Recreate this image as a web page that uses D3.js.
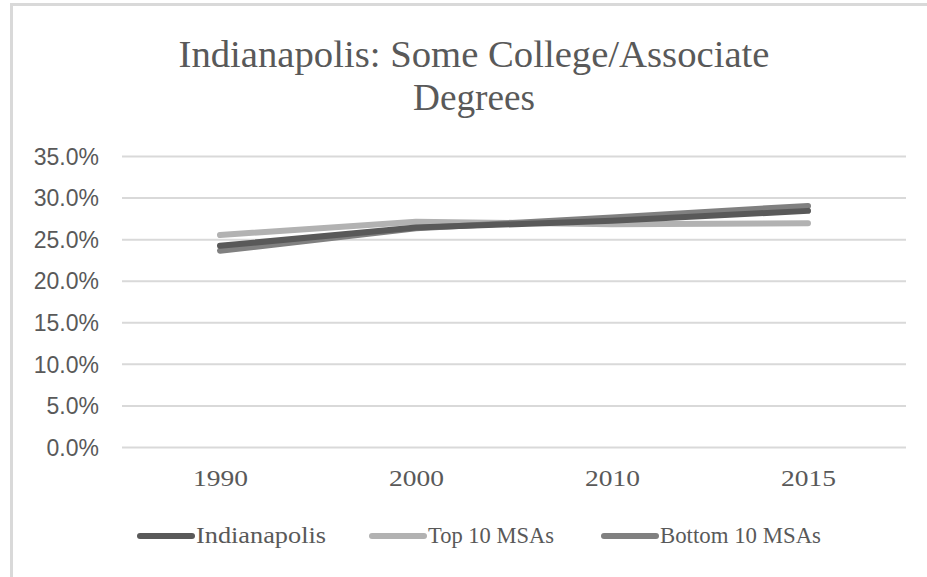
<!DOCTYPE html>
<html><head><meta charset="utf-8">
<script src="https://cdn.jsdelivr.net/npm/d3@7"></script>
<style>html,body{margin:0;padding:0;background:#fff;overflow:hidden;}svg{display:block;}</style>
</head><body>
<script>
const years = ["1990", "2000", "2010", "2015"];
const indianapolis = [24.2, 26.4, 27.2, 28.4];
const top10 = [25.5, 27.1, 26.8, 26.9];
const bottom10 = [23.6, 26.3, 27.6, 29.0];
const yTicks = [0, 5, 10, 15, 20, 25, 30, 35];
const seriesNames = ["Indianapolis", "Top 10 MSAs", "Bottom 10 MSAs"];
const seriesColors = ["#595959", "#b2b2b2", "#808080"];
const titleLines = ["Indianapolis: Some College/Associate", "Degrees"];

const W = 927, H = 577;
const svg = d3.select("body").append("svg").attr("width", W).attr("height", H);

// chart border (top and left edges visible)
svg.append("path").attr("d", `M11.5,${H} V4.5 H${W}`)
  .attr("fill", "none").attr("stroke", "#d9d9d9").attr("stroke-width", 3);

const pLeft = 122, pRight = 906, pTop = 156, pBottom = 447;
const x = d3.scalePoint().domain(years).range([pLeft, pRight]).padding(0.5);
const y = d3.scaleLinear().domain([0, 35]).range([pBottom, pTop]);

// title
const serif = "'Liberation Serif', 'DejaVu Serif', serif";
svg.selectAll("text.title").data(titleLines).enter().append("text")
  .attr("class", "title")
  .attr("x", 474).attr("y", (d, i) => 67 + i * 43)
  .attr("text-anchor", "middle")
  .attr("font-family", serif).attr("font-size", 38)
  .attr("fill", "#595959")
  .attr("textLength", (d, i) => i === 0 ? 591 : 122)
  .attr("lengthAdjust", "spacingAndGlyphs")
  .text(d => d);

// gridlines + y axis
const yAxis = d3.axisLeft(y).tickValues(yTicks).tickSize(-(pRight - pLeft)).tickPadding(23)
  .tickFormat(d => d.toFixed(1) + "%");
const gy = svg.append("g").attr("transform", `translate(${pLeft},0)`).call(yAxis);
gy.select(".domain").remove();
gy.selectAll(".tick line").attr("stroke", "#d9d9d9").attr("stroke-width", 2);
gy.selectAll(".tick text").attr("font-family", "'Liberation Sans', Arial, sans-serif")
  .attr("font-size", 23).attr("fill", "#595959").attr("dy", "0.36em");

// x axis
const xAxis = d3.axisBottom(x).tickSize(0).tickPadding(0);
const gx = svg.append("g").attr("transform", `translate(0,${pBottom})`).call(xAxis);
gx.select(".domain").remove();
gx.selectAll(".tick text").attr("font-family", serif).attr("font-size", 23)
  .attr("fill", "#595959").attr("dy", null).attr("y", 39)
  .attr("textLength", 55).attr("lengthAdjust", "spacingAndGlyphs");

// lines
const seriesData = [indianapolis, top10, bottom10];
const line = d3.line().x((d, i) => x(years[i])).y(d => y(d));
const drawOrder = [1, 2, 0];
drawOrder.forEach(k => {
  svg.append("path").datum(seriesData[k]).attr("d", line)
    .attr("fill", "none").attr("stroke", seriesColors[k]).attr("stroke-width", 6)
    .attr("stroke-linecap", "round").attr("stroke-linejoin", "round");
});

// legend
const legendX = [140, 372, 604];
const legendW = [130, 126, 161];
const lg = svg.append("g");
seriesNames.forEach((n, i) => {
  lg.append("line").attr("x1", legendX[i]).attr("x2", legendX[i] + 52)
    .attr("y1", 536).attr("y2", 536)
    .attr("stroke", seriesColors[i]).attr("stroke-width", 6).attr("stroke-linecap", "round");
  lg.append("text").attr("x", legendX[i] + 56).attr("y", 543)
    .attr("font-family", serif).attr("font-size", 23).attr("fill", "#595959")
    .attr("textLength", legendW[i]).attr("lengthAdjust", "spacingAndGlyphs")
    .text(n);
});
</script>
</body></html>
